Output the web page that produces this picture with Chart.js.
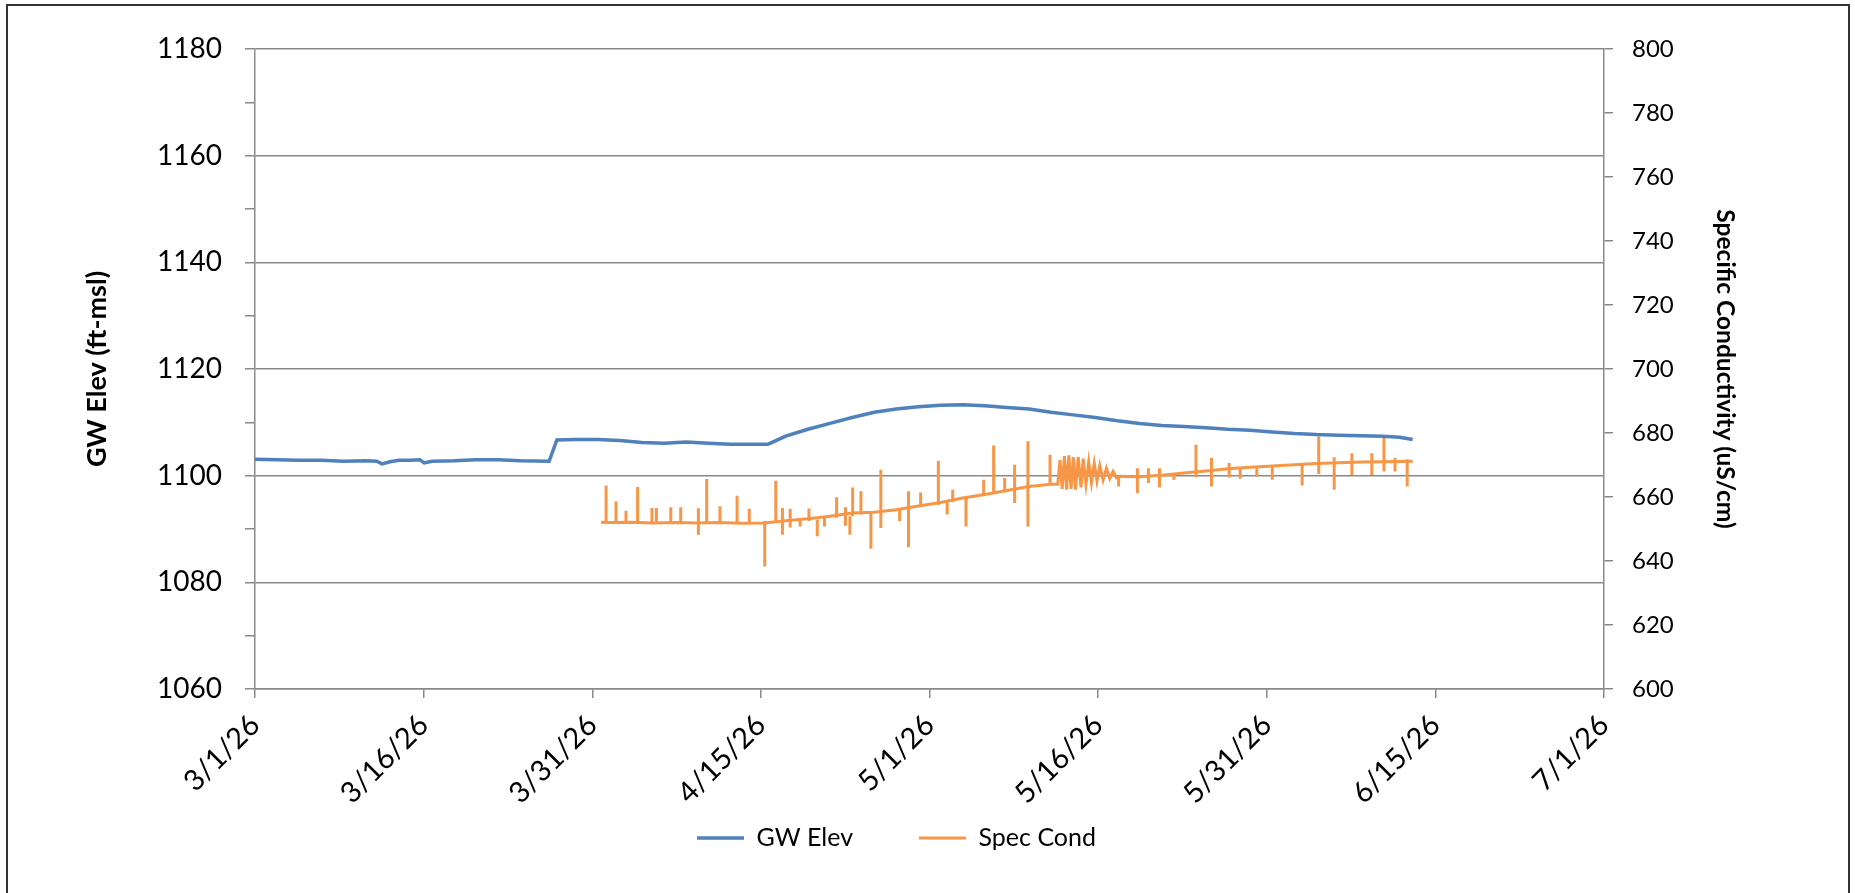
<!DOCTYPE html>
<html>
<head>
<meta charset="utf-8">
<title>GW Elev / Spec Cond</title>
<script src="https://cdn.jsdelivr.net/npm/chart.js@4.4.1/dist/chart.umd.min.js"></script>
<style>
  html, body { margin: 0; padding: 0; background: #fff; overflow: hidden; }
  #frame { position: absolute; left: 6px; top: 4px; width: 1844px; height: 1000px; border: 2px solid #333; box-sizing: border-box; }
  #chart { position: absolute; left: 0; top: 0; }
</style>
</head>
<body>
<div id="frame"></div>
<canvas id="chart" width="1855" height="893"></canvas>
<script>
// x values are days since 3/1/26
const xTickDays = [0, 15.25, 30.5, 45.75, 61, 76.25, 91.5, 106.75, 122];
const xTickLabels = ['3/1/26', '3/16/26', '3/31/26', '4/15/26', '5/1/26', '5/16/26', '5/31/26', '6/15/26', '7/1/26'];

// GW elevation (ft-msl)
const gwDays = [0, 2, 4, 6, 8, 10, 11, 11.5, 12.2, 13, 14, 14.9, 15.3, 16, 18, 20, 22, 24, 26.6,
  27.3, 29, 31, 33, 35, 37, 39, 41, 43, 45, 46.4, 48, 50, 52, 54, 56, 58, 60, 62, 64, 66, 68, 70,
  72, 74, 76, 78, 80, 82, 84, 86, 88, 90, 92, 94, 96, 98, 100, 102, 103.5, 104.7];
const gwElev = [1103.1, 1103.0, 1102.9, 1102.9, 1102.7, 1102.8, 1102.7, 1102.2, 1102.6, 1102.9, 1102.9, 1103.0, 1102.4, 1102.7, 1102.8, 1103.0, 1103.0, 1102.8, 1102.7,
  1106.7, 1106.8, 1106.8, 1106.6, 1106.2, 1106.1, 1106.3, 1106.1, 1105.9, 1105.9, 1105.9, 1107.4, 1108.7, 1109.8, 1110.9, 1111.9, 1112.5, 1112.9, 1113.2, 1113.3, 1113.1, 1112.8, 1112.5,
  1111.9, 1111.4, 1110.9, 1110.3, 1109.8, 1109.4, 1109.2, 1109.0, 1108.7, 1108.5, 1108.2, 1107.9, 1107.7, 1107.6, 1107.5, 1107.4, 1107.2, 1106.8];

// Specific conductivity (uS/cm), underlying trace
const specDays = [31.3, 32, 34, 36, 38, 40, 42, 44, 46, 48, 50, 52, 54, 56, 58, 60, 62, 64, 66, 68, 70, 72,
  72.6, 72.8, 73.0, 73.2, 73.4, 73.6, 73.8, 74.0, 74.2, 74.45, 74.7, 74.9, 75.15, 75.4, 75.65, 75.9, 76.15, 76.4, 76.7, 77.0, 77.3, 77.6, 77.9, 78.2,
  80, 82, 84, 86, 88, 90, 92, 94, 96, 98, 100, 102, 104.7];
const specCond = [652.1, 652.0, 652.1, 651.9, 652.0, 651.9, 652.0, 651.8, 651.9, 652.6, 653.2, 654.0, 655.0, 655.2, 656.0, 657.2, 658.3, 659.7, 660.8, 662.0, 663.3, 664.0,
  664.0, 671.5, 662.5, 672.8, 662.3, 673.0, 662.5, 672.5, 662.3, 672.5, 663.0, 672.0, 664.0, 671.0, 664.5, 670.5, 665.0, 669.8, 665.3, 669.0, 665.8, 668.0, 666.0, 666.5,
  666.3, 666.8, 667.5, 668.1, 668.8, 669.3, 669.7, 670.1, 670.5, 670.7, 670.9, 671.0, 671.2];

// Spec cond spikes: vertical excursions from low to high at a given day
const spikeDays = [31.75, 32.65, 33.55, 34.6, 35.9, 36.3, 37.6, 38.5, 40.1, 40.85, 42.05, 43.6, 44.7, 46.1, 47.1, 47.7, 48.4, 49.3, 50.1, 50.85,
  51.5, 52.6, 53.4, 53.8, 54.05, 54.8, 55.7, 56.6, 58.3, 59.1, 60.2, 61.8, 62.6, 63.1, 64.3, 65.9, 66.8, 67.8, 68.7, 69.9, 71.9,
  78.1, 79.8, 80.8, 81.8, 83.1, 85.1, 86.5, 88.1, 89.1, 90.6, 92.0, 94.7, 96.2, 97.6, 99.2, 101.0, 102.1, 103.1, 104.2];
const spikeLow = [652, 652, 652, 652, 652, 652, 652, 652, 648.2, 652, 652, 652, 652, 638.3, 652, 648.2, 650.5, 650.8, 652.5, 647.7,
  650.8, 653.5, 651, 648.2, 654, 654.5, 643.8, 650.3, 652.4, 644.3, 657, 657.5, 654.5, 658.5, 650.8, 660.5, 661, 661.5, 658.1, 650.8, 663.8,
  663.3, 661.2, 664.4, 663, 665.4, 666.2, 663.3, 666.1, 665.7, 666.4, 665.4, 663.6, 667.2, 662.3, 666.9, 666.9, 668, 668, 663.3];
const spikeHigh = [663.6, 658.6, 655.7, 663.1, 656.6, 656.6, 656.8, 656.8, 656.5, 665.6, 657.1, 660.4, 656.3, 652.5, 665.1, 656.6, 656.3, 653, 656.4, 653,
  653.5, 659.9, 656.8, 654, 663, 661.8, 655, 668.5, 656, 661.8, 661.4, 671.3, 658.5, 662.3, 660, 665.4, 676.1, 665.9, 670.1, 677.4, 673.2,
  666.5, 669, 669, 669, 667, 676.3, 672.2, 670.6, 668.8, 669.3, 669.7, 670.1, 678.9, 672.4, 673.7, 673.7, 678.9, 672.2, 671.8];

const PLOT_LEFT = 255, PLOT_RIGHT = 1604, PLOT_TOP = 49, PLOT_BOTTOM = 689;
const LEGEND_ROW_Y = 838, LEGEND_SHIFT_X = -31, LEGEND_H = 45;
const BLUE = '#4F81BD', ORANGE = '#F79646', AXIS = '#898989';

const gwData = gwDays.map((d, i) => ({ x: d, y: gwElev[i] }));
const specData = specDays.map((d, i) => ({ x: d, y: specCond[i] }));
const spikeData = [];
spikeDays.forEach((d, i) => {
  spikeData.push({ x: d, y: spikeLow[i] }, { x: d, y: spikeHigh[i] }, { x: d, y: null });
});

Chart.defaults.font.family = 'Lato, "Liberation Sans", sans-serif';
Chart.defaults.color = '#000';

// put the legend row where the original has it (box grown so the row isn't clipped)
const legendPlace = {
  id: 'legendPlace',
  afterLayout(chart) {
    const lg = chart.legend;
    const opts = lg.options.labels;
    lg.left += LEGEND_SHIFT_X;
    lg.right += LEGEND_SHIFT_X;
    lg.top = LEGEND_ROW_Y - opts.padding - opts.font.size / 2;
    lg.bottom = lg.top + opts.padding * 2 + opts.font.size;
  }
};

new Chart(document.getElementById('chart'), {
  type: 'line',
  data: {
    datasets: [
      {
        label: 'GW Elev',
        data: gwData,
        yAxisID: 'y',
        borderColor: BLUE,
        backgroundColor: BLUE,
        borderWidth: 3.5,
        pointRadius: 0,
        tension: 0,
      },
      {
        label: 'Spec Cond',
        data: specData,
        yAxisID: 'y1',
        borderColor: ORANGE,
        backgroundColor: ORANGE,
        borderWidth: 3,
        pointRadius: 0,
        tension: 0,
      },
      {
        label: 'spikes',
        data: spikeData,
        yAxisID: 'y1',
        borderColor: ORANGE,
        backgroundColor: ORANGE,
        borderWidth: 3,
        pointRadius: 0,
        spanGaps: false,
        tension: 0,
      },
    ],
  },
  options: {
    responsive: false,
    animation: false,
    devicePixelRatio: 1,
    layout: { padding: { top: PLOT_TOP, left: 0, right: 0, bottom: 0 } },
    plugins: {
      legend: {
        position: 'bottom',
        maxHeight: LEGEND_H,
        labels: {
          filter: (item) => item.datasetIndex !== 2,
          usePointStyle: true,
          pointStyle: 'line',
          pointStyleWidth: 47,
          padding: 66,
          font: { size: 25 },
          color: '#000',
        },
      },
      tooltip: { enabled: false },
    },
    scales: {
      x: {
        type: 'linear',
        min: 0,
        max: 122,
        afterBuildTicks: (scale) => {
          scale.ticks = xTickDays.map(v => ({ value: v }));
        },
        afterFit: (scale) => {
          scale.height = 893 - PLOT_BOTTOM - LEGEND_H;
        },
        ticks: {
          autoSkip: false,
          minRotation: 45,
          maxRotation: 45,
          padding: 10,
          font: { size: 29 },
          callback: (value, index) => xTickLabels[index],
        },
        grid: { drawOnChartArea: false, drawTicks: true, tickLength: 9, color: AXIS, lineWidth: 1.5 },
        border: { display: true, color: AXIS, width: 1.5 },
      },
      y: {
        position: 'left',
        min: 1060,
        max: 1180,
        afterFit: (scale) => { scale.width = PLOT_LEFT; },
        ticks: {
          stepSize: 10,
          padding: 23,
          font: { size: 28 },
          callback: (v) => (v % 20 === 0 ? String(v) : ''),
        },
        grid: {
          color: (ctx) => (ctx.tick && ctx.tick.value % 20 === 0 ? AXIS : 'rgba(0,0,0,0)'),
          tickColor: AXIS,
          lineWidth: 1.5,
          tickLength: 10,
        },
        border: { display: true, color: AXIS, width: 1.5 },
        title: {
          display: true,
          text: 'GW Elev (ft-msl)',
          font: { size: 27, weight: 'bold' },
          padding: { top: 81 },
        },
      },
      y1: {
        position: 'right',
        min: 600,
        max: 800,
        afterFit: (scale) => { scale.width = 1855 - PLOT_RIGHT; },
        ticks: {
          stepSize: 20,
          padding: 19,
          font: { size: 24 },
        },
        grid: { drawOnChartArea: false, tickColor: AXIS, color: AXIS, lineWidth: 1.5, tickLength: 9 },
        border: { display: true, color: AXIS, width: 1.5 },
        title: {
          display: true,
          text: 'Specific Conductivity (uS/cm)',
          font: { size: 24.5, weight: 'bold' },
          padding: { top: 115 },
        },
      },
    },
  },
  plugins: [legendPlace],
});
</script>
</body>
</html>
